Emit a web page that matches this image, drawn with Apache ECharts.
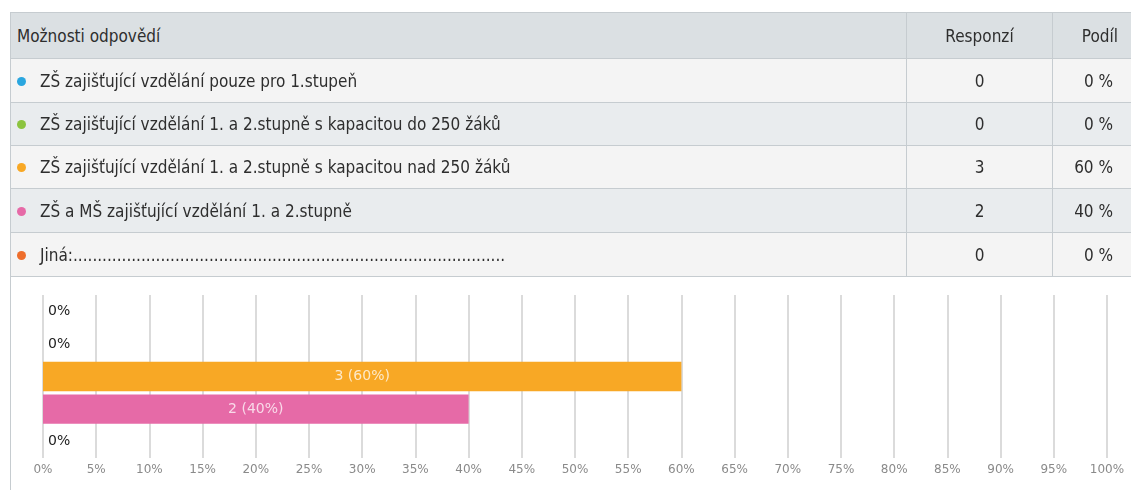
<!DOCTYPE html>
<html>
<head>
<meta charset="utf-8">
<script src="https://cdn.jsdelivr.net/npm/echarts@6/dist/echarts.min.js"></script>
<style>
  html, body { margin: 0; padding: 0; background: #fff; width: 1131px; height: 490px; overflow: hidden; }
  #tbl { position: absolute; left: 10px; top: 12px; width: 1140px; border-collapse: collapse; table-layout: fixed;
         font-family: "Liberation Sans Narrow", "DejaVu Sans Condensed", "Open Sans", sans-serif; font-size: 17px; color: #2e2e2e; z-index: 2; }
  #tbl td, #tbl th { border: 1px solid #c6ccd0; padding: 0; font-weight: normal; white-space: nowrap; overflow: hidden; }
  #tbl th { background: #dbe0e3; height: 45px; }
  #tbl tr.l td { background: #f4f4f4; }
  #tbl tr.d td { background: #e9ecee; }
  .c1 { text-align: left; padding-left: 6px !important; }
  .c2 { text-align: center; }
  td.c3 { text-align: right; padding-right: 37px !important; }
  th.c3 { text-align: right; padding-right: 32px !important; }
  .dot { display: inline-block; width: 9px; height: 9px; border-radius: 50%; margin-right: 14px; vertical-align: 1px; }
  #frame { position: absolute; left: 10px; top: 276px; width: 1px; height: 214px; background: #c6ccd0; }
  #chart { position: absolute; left: 0; top: 0; width: 1131px; height: 490px; z-index: 1; }
</style>
</head>
<body>
<table id="tbl"></table>
<div id="frame"></div>
<div id="chart"></div>
<script>
const headers = ["Možnosti odpovědí", "Responzí", "Podíl"];
const categories = [
  "ZŠ zajišťující vzdělání pouze pro 1.stupeň",
  "ZŠ zajišťující vzdělání 1. a 2.stupně s kapacitou do 250 žáků",
  "ZŠ zajišťující vzdělání 1. a 2.stupně s kapacitou nad 250 žáků",
  "ZŠ a MŠ zajišťující vzdělání 1. a 2.stupně",
  "Jiná:........................................................................................."
];
const counts = [0, 0, 3, 2, 0];
const shares = [0, 0, 60, 40, 0];
const colors = ["#2aa6df", "#8cc43f", "#f8a825", "#e66aa7", "#ee6e2c"];

// Table
const tbl = document.getElementById('tbl');
const rowH = [44, 43, 43, 44, 44];
let html = '<colgroup><col style="width:896px"><col style="width:146px"><col style="width:98px"></colgroup>';
html += '<tr><th class="c1" style="padding-left:8px">' + headers[0] + '</th><th class="c2">' + headers[1] + '</th><th class="c3">' + headers[2] + '</th></tr>';
categories.forEach((c, i) => {
  html += '<tr class="' + (i % 2 === 0 ? 'l' : 'd') + '" style="height:' + rowH[i] + 'px">' +
    '<td class="c1"><span class="dot" style="background:' + colors[i] + '"></span>' + c + '</td>' +
    '<td class="c2">' + counts[i] + '</td>' +
    '<td class="c3">' + shares[i] + ' %</td></tr>';
});
tbl.innerHTML = html;

// Chart
const chart = echarts.init(document.getElementById('chart'), null, { renderer: 'canvas' });
const barData = shares.map((v, i) => ({
  value: v,
  itemStyle: { color: colors[i] },
  label: v === 0
    ? { show: true, position: 'insideLeft', distance: 5, formatter: '0%', color: '#222', fontSize: 14 }
    : { show: true, position: 'inside', formatter: counts[i] + ' (' + v + '%)', color: 'rgba(255,255,255,0.75)', fontSize: 14 }
}));
chart.setOption({
  animation: false,
  textStyle: { fontFamily: 'DejaVu Sans' },
  grid: { left: 43, right: 24, top: 295, bottom: 32, containLabel: false },
  xAxis: {
    type: 'value', min: 0, max: 100, interval: 5,
    axisLine: { show: false }, axisTick: { show: false },
    axisLabel: { formatter: '{value}%', color: '#8a8a8a', fontSize: 12, margin: 6 },
    splitLine: { show: true, lineStyle: { color: '#cfcfcf', width: 1.5 } }
  },
  yAxis: {
    type: 'category', data: categories, inverse: true,
    axisLine: { show: false }, axisTick: { show: false }, axisLabel: { show: false }
  },
  series: [{
    type: 'bar', data: barData, barCategoryGap: '10%'
  }]
});
</script>
</body>
</html>
